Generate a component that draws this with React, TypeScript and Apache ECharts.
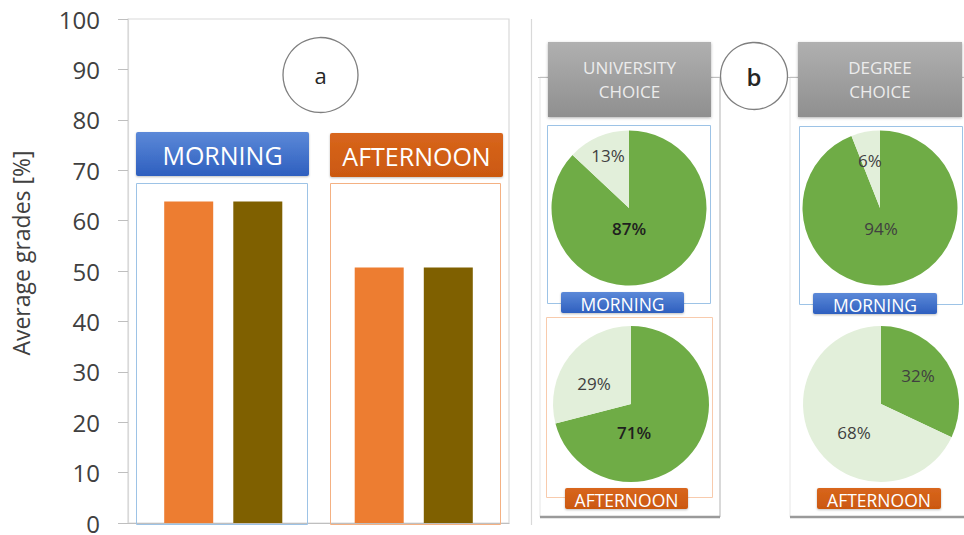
import React, { useEffect, useRef } from "react";
import * as echarts from "echarts";

// ---------- data ----------
const categories = ["MORNING", "AFTERNOON"];
const seriesOrange = [63.8, 50.7];
const seriesBrown = [63.8, 50.7];
const yTickMax = 100;
const yTickStep = 10;

const sliceNames = ["Yes", "No"];
const uniMorning = [87, 13];
const degreeMorning = [94, 6];
const uniAfternoon = [71, 29];
const degreeAfternoon = [32, 68];

// ---------- layout / style ----------
const FONT = "Open Sans";
const GREEN = "#6fac46";
const LIGHT = "#e2efda";
const BLUE_GRAD = () =>
  new echarts.graphic.LinearGradient(0, 0, 0, 1, [
    { offset: 0, color: "#5c89d8" },
    { offset: 1, color: "#2e5fbf" },
  ]);
const ORANGE_GRAD = () =>
  new echarts.graphic.LinearGradient(0, 0, 0, 1, [
    { offset: 0, color: "#d8661c" },
    { offset: 1, color: "#cb5810" },
  ]);
const GRAY_GRAD = () =>
  new echarts.graphic.LinearGradient(0, 0, 0, 1, [
    { offset: 0, color: "#b0b0b0" },
    { offset: 1, color: "#8f8f8f" },
  ]);

// pie layout: center, radius, label offsets [dx, dy] for each slice
const PIES = [
  { data: uniMorning, center: [629, 208], r: 77.5, offsets: [[0, 20], [-21, -53]], dark: true },
  { data: degreeMorning, center: [880, 208], r: 77.5, offsets: [[1, 20], [-10, -48]], dark: false },
  { data: uniAfternoon, center: [631, 404], r: 78, offsets: [[3, 28], [-37, -21]], dark: true },
  { data: degreeAfternoon, center: [881, 404], r: 78, offsets: [[37, -29], [-27, 28]], dark: false },
];

function labelBox(x: number, y: number, w: number, h: number, text: string, fill: any, fontSize: number) {
  return {
    type: "group",
    z: 20,
    children: [
      {
        type: "rect",
        shape: { x, y, width: w, height: h, r: 2 },
        style: { fill, shadowBlur: 2, shadowColor: "rgba(0,0,0,0.25)", shadowOffsetY: 1 },
        z: 20,
      },
      {
        type: "text",
        x: x + w / 2,
        y: y + h / 2 + 1,
        z: 21,
        style: {
          text,
          fill: "#ffffff",
          font: `${fontSize}px "${FONT}"`,
          align: "center",
          verticalAlign: "middle",
        },
      },
    ],
  };
}

function strokeRect(x: number, y: number, w: number, h: number, color: string, z = 1) {
  return {
    type: "rect",
    z,
    shape: { x, y, width: w, height: h },
    style: { fill: "none", stroke: color, lineWidth: 1 },
  };
}

function line(x1: number, y1: number, x2: number, y2: number, color: string, width = 1, z = 1) {
  return {
    type: "line",
    z,
    shape: { x1, y1, x2, y2 },
    style: { stroke: color, lineWidth: width },
  };
}

function circleLabel(cx: number, cy: number, r: number, text: string, fontSize: number, weight = "normal") {
  return {
    type: "group",
    z: 15,
    children: [
      {
        type: "circle",
        z: 15,
        shape: { cx, cy, r },
        style: { fill: "#ffffff", stroke: "#7f7f7f", lineWidth: 1.3 },
      },
      {
        type: "text",
        x: cx,
        y: cy,
        z: 16,
        style: {
          text,
          fill: "#262626",
          font: `${weight} ${fontSize}px "${FONT}"`,
          align: "center",
          verticalAlign: "middle",
        },
      },
    ],
  };
}

export default function App() {
  const ref = useRef<HTMLDivElement>(null);

  useEffect(() => {
    if (!ref.current) return;
    const chart = echarts.init(ref.current, undefined, { renderer: "svg" });

    const pieSeries = PIES.map((p, i) => ({
      type: "pie",
      name: `pie${i}`,
      center: p.center,
      radius: [0, p.r],
      startAngle: 90,
      clockwise: true,
      z: 5,
      data: p.data.map((v, j) => ({
        value: v,
        name: sliceNames[j],
        itemStyle: { color: j === 0 ? GREEN : LIGHT },
        label: {
          color: p.dark && j === 0 ? "#1f1f1f" : "#404040",
          fontWeight: p.dark && j === 0 ? 600 : 400,
        },
      })),
      label: {
        show: true,
        position: "inside",
        formatter: "{c}%",
        fontSize: 17,
        fontFamily: FONT,
      },
      labelLine: { show: false },
      labelLayout: (params: any) => {
        const off = p.offsets[params.dataIndex];
        return {
          x: p.center[0] + off[0],
          y: p.center[1] + off[1],
          align: "center",
          verticalAlign: "middle",
        };
      },
      emphasis: { disabled: true },
      silent: true,
    }));

    const graphic: any[] = [
      // left panel group boxes
      strokeRect(136.5, 183.5, 171, 341, "#9dc3e6", 3),
      strokeRect(330.5, 183.5, 170, 341, "#f4b183", 3),
      labelBox(136, 132, 173, 44, "MORNING", BLUE_GRAD(), 25),
      labelBox(330, 133, 173, 44, "AFTERNOON", ORANGE_GRAD(), 25),
      circleLabel(320.5, 75, 37.5, "a", 22),

      // right panel
      line(531.5, 19, 531.5, 525, "#d9d9d9", 1.2, 0),
      // column panels
      {
        type: "rect",
        z: 0,
        shape: { x: 540, y: 77, width: 180, height: 440 },
        style: { fill: "#ffffff", stroke: "#e6e6e6", lineWidth: 1 },
      },
      {
        type: "rect",
        z: 0,
        shape: { x: 790, y: 77, width: 180, height: 440 },
        style: { fill: "#ffffff", stroke: "#e6e6e6", lineWidth: 1 },
      },
      line(720, 77, 720, 517, "#d0d0d0", 1.5, 1),
      line(540, 517, 720, 517, "#9a9a9a", 2.5, 1),
      line(790, 517, 964, 517, "#9a9a9a", 2.5, 1),
      line(538, 77.5, 964, 77.5, "#bfbfbf", 1.2, 2),
      // headers
      {
        type: "group",
        z: 10,
        children: [
          {
            type: "rect",
            z: 10,
            shape: { x: 548, y: 42, width: 163, height: 75 },
            style: { fill: GRAY_GRAD(), shadowBlur: 3, shadowColor: "rgba(0,0,0,0.3)", shadowOffsetY: 1 },
          },
          {
            type: "text",
            z: 11,
            x: 629.5,
            y: 79,
            style: {
              text: "UNIVERSITY\nCHOICE",
              fill: "#ececec",
              font: `17px "${FONT}"`,
              lineHeight: 24,
              align: "center",
              verticalAlign: "middle",
            },
          },
          {
            type: "rect",
            z: 10,
            shape: { x: 798, y: 42, width: 164, height: 75 },
            style: { fill: GRAY_GRAD(), shadowBlur: 3, shadowColor: "rgba(0,0,0,0.3)", shadowOffsetY: 1 },
          },
          {
            type: "text",
            z: 11,
            x: 880,
            y: 79,
            style: {
              text: "DEGREE\nCHOICE",
              fill: "#ececec",
              font: `17px "${FONT}"`,
              lineHeight: 24,
              align: "center",
              verticalAlign: "middle",
            },
          },
        ],
      },
      circleLabel(754, 76, 33.5, "b", 24, "600"),
      // pie boxes
      strokeRect(547.5, 125.5, 163, 178, "#9dc3e6", 3),
      strokeRect(799.5, 126.5, 163, 178, "#9dc3e6", 3),
      strokeRect(546.5, 317.5, 166, 180, "#f8cbad", 3),
      labelBox(561, 292, 123, 21, "MORNING", BLUE_GRAD(), 17.5),
      labelBox(813, 293, 124, 21, "MORNING", BLUE_GRAD(), 17.5),
      labelBox(565, 488, 123, 21, "AFTERNOON", ORANGE_GRAD(), 17.5),
      labelBox(817, 488, 124, 21, "AFTERNOON", ORANGE_GRAD(), 17.5),
    ];

    chart.setOption({
      animation: false,
      textStyle: { fontFamily: FONT },
      grid: {
        left: 128,
        top: 19,
        width: 381,
        height: 506,
        show: true,
        borderColor: "#d9d9d9",
        borderWidth: 1.2,
        backgroundColor: "transparent",
      },
      xAxis: {
        type: "category",
        data: categories,
        axisLabel: { show: false },
        axisTick: { show: false },
        axisLine: { lineStyle: { color: "#bfbfbf", width: 1.2 } },
      },
      yAxis: {
        type: "value",
        min: 0,
        max: yTickMax,
        interval: yTickStep,
        name: "Average grades [%]",
        nameLocation: "middle",
        nameGap: 96,
        nameTextStyle: {
          fontSize: 23,
          color: "#404040",
          fontFamily: FONT,
          padding: [0, 0, 0, 36],
        },
        axisLine: { show: true, lineStyle: { color: "#d9d9d9", width: 1.2 } },
        axisTick: { show: true, length: 10, lineStyle: { color: "#bfbfbf" } },
        axisLabel: { fontSize: 24, lineHeight: 18, color: "#404040", margin: 28, fontFamily: FONT },
        splitLine: { show: false },
      },
      series: [
        {
          type: "bar",
          name: "Series 1",
          data: seriesOrange,
          barWidth: 49,
          barGap: "41%",
          itemStyle: { color: "#ed7d31" },
          z: 4,
          silent: true,
        },
        {
          type: "bar",
          name: "Series 2",
          data: seriesBrown,
          barWidth: 49,
          itemStyle: { color: "#7f6000" },
          z: 4,
          silent: true,
        },
        ...pieSeries,
      ],
      graphic,
    });

    return () => chart.dispose();
  }, []);

  return (
    <div
      ref={ref}
      style={{ position: "fixed", left: 0, top: 0, width: 964, height: 535, background: "#ffffff" }}
    />
  );
}
